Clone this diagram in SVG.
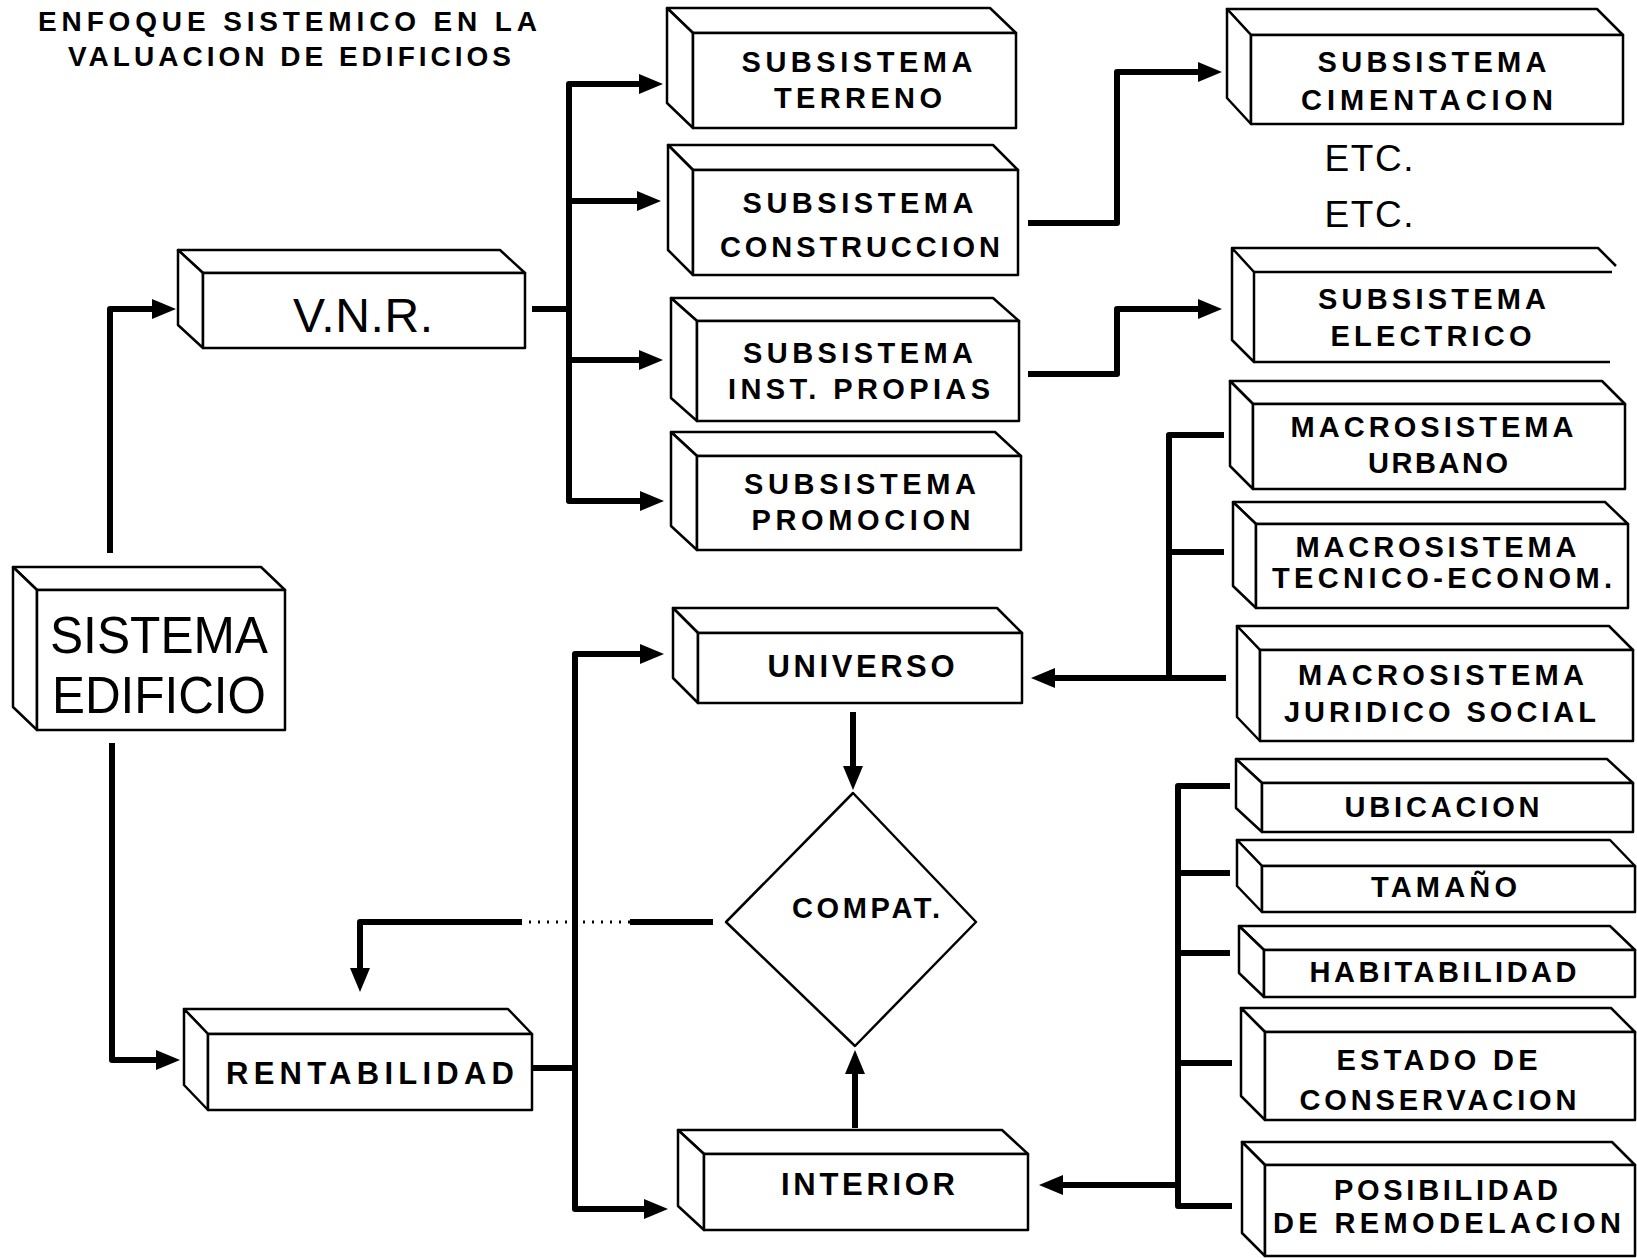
<svg xmlns="http://www.w3.org/2000/svg" width="1637" height="1258" viewBox="0 0 1637 1258">
  <defs>
    <style>
      .box path, .box rect { fill: #fff; stroke: #000; stroke-width: 2.5; stroke-linejoin: round; }
      .box .open { fill: none; }
      .lbl { font-family: "Liberation Sans", Arial, Helvetica, sans-serif; font-weight: bold; font-size: 29px; text-anchor: middle; fill: #000; }
      .lbl.big { font-weight: normal; font-size: 52px; }
      .lbl.mid { font-weight: normal; font-size: 48px; }
      .lbl.etc { font-weight: normal; font-size: 37px; }
      .lbl.l30 { font-size: 31px; }
      .title { font-family: "Liberation Sans", Arial, Helvetica, sans-serif; font-weight: bold; font-size: 28px; fill: #000; }
      .wire { fill: none; stroke: #000; stroke-width: 6; stroke-linejoin: round; }
      .dots { fill: none; stroke: #000; stroke-width: 3; stroke-dasharray: 2 7; }
    </style>
    <marker id="ah" viewBox="0 0 24 20" refX="8" refY="10" markerWidth="24" markerHeight="20" markerUnits="userSpaceOnUse" orient="auto-start-reverse">
      <path d="M0,0 L24,10 L0,20 Z" fill="#000"/>
    </marker>
  </defs>
  <rect width="1637" height="1258" fill="#fff"/>

  <!-- heading -->
  <g id="heading">
    <text class="title" x="38" y="31" textLength="499">ENFOQUE SISTEMICO EN LA</text>
    <text class="title" x="68" y="66" textLength="443">VALUACION DE EDIFICIOS</text>
  </g>

  <!-- connectors -->
  <g id="connectors">
    <!-- SISTEMA EDIFICIO branches -->
    <path class="wire" d="M110,553 V309 H160" marker-end="url(#ah)"/>
    <path class="wire" d="M112,743 V1060 H164" marker-end="url(#ah)"/>
    <!-- V.N.R. to subsystems -->
    <path class="wire" d="M532,309 H569"/>
    <path class="wire" d="M647,84 H569 V501 H648" marker-start="url(#ah)" marker-end="url(#ah)"/>
    <path class="wire" d="M569,201 H645" marker-end="url(#ah)"/>
    <path class="wire" d="M569,360 H647" marker-end="url(#ah)"/>
    <!-- subsystem details -->
    <path class="wire" d="M1028,223 H1117 V72 H1206" marker-end="url(#ah)"/>
    <path class="wire" d="M1028,374 H1117 V309 H1206" marker-end="url(#ah)"/>
    <!-- macrosystems to UNIVERSO -->
    <path class="wire" d="M1224,435 H1169 V678 H1047" marker-end="url(#ah)"/>
    <path class="wire" d="M1169,552 H1224"/>
    <path class="wire" d="M1169,678 H1226"/>
    <!-- interior factors to INTERIOR -->
    <path class="wire" d="M1230,786 H1178 V1206 H1232"/>
    <path class="wire" d="M1178,873 H1230"/>
    <path class="wire" d="M1178,953 H1230"/>
    <path class="wire" d="M1178,1063 H1232"/>
    <path class="wire" d="M1178,1185 H1055" marker-end="url(#ah)"/>
    <!-- into COMPAT. -->
    <path class="wire" d="M853,712 V774" marker-end="url(#ah)"/>
    <path class="wire" d="M855,1128 V1066" marker-end="url(#ah)"/>
    <!-- RENTABILIDAD to UNIVERSO / INTERIOR -->
    <path class="wire" d="M532,1068 H575"/>
    <path class="wire" d="M648,654 H575 V1209 H652" marker-start="url(#ah)" marker-end="url(#ah)"/>
    <!-- COMPAT. feedback to RENTABILIDAD -->
    <path class="wire" d="M713,922 H630"/>
    <path class="dots" d="M630,922 H522"/>
    <path class="wire" d="M522,922 H360 V976" marker-end="url(#ah)"/>
  </g>

  <!-- nodes -->
  <g id="sistema-edificio" class="box">
    <path d="M13,567 H261 L285,590 H37 Z"/>
    <path d="M13,567 L37,590 V730 L13,707 Z"/>
    <rect x="37" y="590" width="248" height="140"/>
    <text class="lbl big" x="159" y="653" textLength="218" lengthAdjust="spacingAndGlyphs">SISTEMA</text>
    <text class="lbl big" x="159" y="713" textLength="214" lengthAdjust="spacingAndGlyphs">EDIFICIO</text>
  </g>

  <g id="vnr" class="box">
    <path d="M178,250 H500 L525,273 H203 Z"/>
    <path d="M178,250 L203,273 V348 L178,325 Z"/>
    <rect x="203" y="273" width="322" height="75"/>
    <text class="lbl mid" x="363" y="332" textLength="140">V.N.R.</text>
  </g>

  <g id="sub-terreno" class="box">
    <path d="M667,8 H990 L1016,33 H693 Z"/>
    <path d="M667,8 L693,33 V128 L667,103 Z"/>
    <rect x="693" y="33" width="323" height="95"/>
    <text class="lbl" x="857" y="72" textLength="231">SUBSISTEMA</text>
    <text class="lbl" x="858" y="108" textLength="168">TERRENO</text>
  </g>

  <g id="sub-construccion" class="box">
    <path d="M668,145 H993 L1018,170 H693 Z"/>
    <path d="M668,145 L693,170 V275 L668,250 Z"/>
    <rect x="693" y="170" width="325" height="105"/>
    <text class="lbl" x="858" y="213" textLength="231">SUBSISTEMA</text>
    <text class="lbl" x="860" y="257" textLength="280">CONSTRUCCION</text>
  </g>

  <g id="sub-inst-propias" class="box">
    <path d="M671,298 H993 L1019,321 H697 Z"/>
    <path d="M671,298 L697,321 V421 L671,398 Z"/>
    <rect x="697" y="321" width="322" height="100"/>
    <text class="lbl" x="858" y="363" textLength="230">SUBSISTEMA</text>
    <text class="lbl" x="859" y="399" textLength="262">INST. PROPIAS</text>
  </g>

  <g id="sub-promocion" class="box">
    <path d="M671,432 H995 L1021,456 H697 Z"/>
    <path d="M671,432 L697,456 V550 L671,526 Z"/>
    <rect x="697" y="456" width="324" height="94"/>
    <text class="lbl" x="860" y="494" textLength="232">SUBSISTEMA</text>
    <text class="lbl" x="861" y="530" textLength="219">PROMOCION</text>
  </g>

  <g id="universo" class="box">
    <path d="M673,608 H997 L1022,633 H698 Z"/>
    <path d="M673,608 L698,633 V703 L673,678 Z"/>
    <rect x="698" y="633" width="324" height="70"/>
    <text class="lbl l30" x="861" y="677" textLength="187">UNIVERSO</text>
  </g>

  <g id="compat" class="box">
    <path d="M853,793 L976,922 L855,1046 L726,922 Z"/>
    <text class="lbl" x="866" y="918" textLength="148">COMPAT.</text>
  </g>

  <g id="rentabilidad" class="box">
    <path d="M184,1009 H508 L532,1034 H208 Z"/>
    <path d="M184,1009 L208,1034 V1110 L184,1085 Z"/>
    <rect x="208" y="1034" width="324" height="76"/>
    <text class="lbl l30" x="370" y="1084" textLength="288">RENTABILIDAD</text>
  </g>

  <g id="interior" class="box">
    <path d="M678,1130 H1002 L1028,1154 H704 Z"/>
    <path d="M678,1130 L704,1154 V1230 L678,1206 Z"/>
    <rect x="704" y="1154" width="324" height="76"/>
    <text class="lbl l30" x="868" y="1195" textLength="174">INTERIOR</text>
  </g>

  <g id="sub-cimentacion" class="box">
    <path d="M1227,9 H1597 L1623,35 H1251 Z"/>
    <path d="M1227,9 L1251,35 V124 L1227,98 Z"/>
    <rect x="1251" y="35" width="372" height="89"/>
    <text class="lbl" x="1432" y="72" textLength="229">SUBSISTEMA</text>
    <text class="lbl" x="1427" y="110" textLength="252">CIMENTACION</text>
  </g>

  <g id="etc">
    <text class="lbl etc" x="1369" y="171" textLength="89">ETC.</text>
    <text class="lbl etc" x="1369" y="227" textLength="89">ETC.</text>
  </g>

  <g id="sub-electrico" class="box">
    <path d="M1232,248 L1254,272 V362 L1232,340 Z"/>
    <path class="open" d="M1232,248 H1598 L1616,266"/>
    <path class="open" d="M1254,272 H1612"/>
    <path class="open" d="M1254,362 H1610"/>
    <text class="lbl" x="1432" y="309" textLength="228">SUBSISTEMA</text>
    <text class="lbl" x="1431" y="346" textLength="201">ELECTRICO</text>
  </g>

  <g id="macro-urbano" class="box">
    <path d="M1230,381 H1602 L1625,404 H1253 Z"/>
    <path d="M1230,381 L1253,404 V489 L1230,466 Z"/>
    <rect x="1253" y="404" width="372" height="85"/>
    <text class="lbl" x="1432" y="437" textLength="283">MACROSISTEMA</text>
    <text class="lbl" x="1438" y="473" textLength="140">URBANO</text>
  </g>

  <g id="macro-tecnico" class="box">
    <path d="M1233,502 H1605 L1628,524 H1256 Z"/>
    <path d="M1233,502 L1256,524 V608 L1233,586 Z"/>
    <rect x="1256" y="524" width="372" height="84"/>
    <text class="lbl" x="1436" y="557" textLength="281">MACROSISTEMA</text>
    <text class="lbl" x="1442" y="588" textLength="340">TECNICO-ECONOM.</text>
  </g>

  <g id="macro-juridico" class="box">
    <path d="M1237,626 H1609 L1633,650 H1260 Z"/>
    <path d="M1237,626 L1260,650 V741 L1237,717 Z"/>
    <rect x="1260" y="650" width="373" height="91"/>
    <text class="lbl" x="1441" y="685" textLength="286">MACROSISTEMA</text>
    <text class="lbl" x="1440" y="722" textLength="312">JURIDICO SOCIAL</text>
  </g>

  <g id="ubicacion" class="box">
    <path d="M1236,759 H1607 L1633,783 H1262 Z"/>
    <path d="M1236,759 L1262,783 V832 L1236,808 Z"/>
    <rect x="1262" y="783" width="371" height="49"/>
    <text class="lbl" x="1442" y="817" textLength="195">UBICACION</text>
  </g>

  <g id="tamano" class="box">
    <path d="M1237,840 H1610 L1635,866 H1262 Z"/>
    <path d="M1237,840 L1262,866 V912 L1237,886 Z"/>
    <rect x="1262" y="866" width="373" height="46"/>
    <text class="lbl" x="1444" y="897" textLength="146">TAMAÑO</text>
  </g>

  <g id="habitabilidad" class="box">
    <path d="M1239,926 H1610 L1635,950 H1264 Z"/>
    <path d="M1239,926 L1264,950 V997 L1239,973 Z"/>
    <rect x="1264" y="950" width="371" height="47"/>
    <text class="lbl" x="1443" y="982" textLength="267">HABITABILIDAD</text>
  </g>

  <g id="estado-conservacion" class="box">
    <path d="M1241,1008 H1611 L1635,1032 H1265 Z"/>
    <path d="M1241,1008 L1265,1032 V1120 L1241,1096 Z"/>
    <rect x="1265" y="1032" width="370" height="88"/>
    <text class="lbl" x="1437" y="1070" textLength="201">ESTADO DE</text>
    <text class="lbl" x="1438" y="1110" textLength="277">CONSERVACION</text>
  </g>

  <g id="posibilidad-remodelacion" class="box">
    <path d="M1242,1142 H1612 L1635,1165 H1265 Z"/>
    <path d="M1242,1142 L1265,1165 V1256 L1242,1233 Z"/>
    <rect x="1265" y="1165" width="370" height="91"/>
    <text class="lbl" x="1446" y="1200" textLength="224">POSIBILIDAD</text>
    <text class="lbl" x="1447" y="1233" textLength="348">DE REMODELACION</text>
  </g>
</svg>
